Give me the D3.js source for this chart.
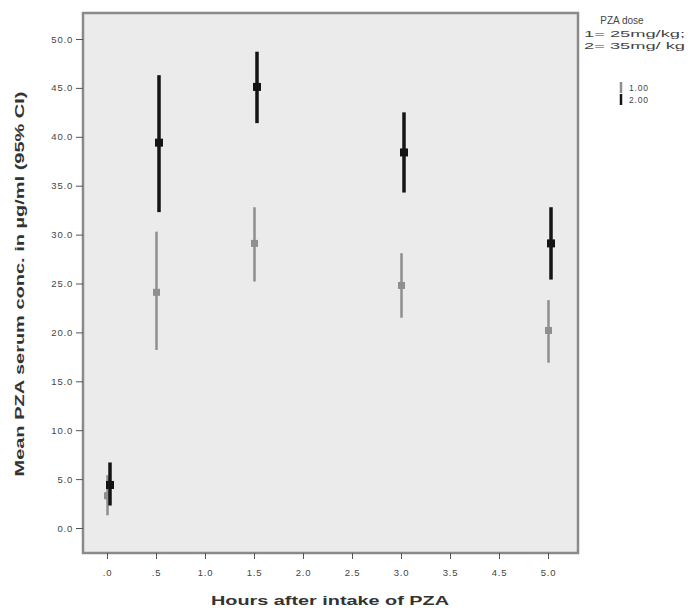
<!DOCTYPE html>
<html><head><meta charset="utf-8">
<script src="https://cdn.jsdelivr.net/npm/d3@7/dist/d3.min.js"></script>
<style>body{margin:0;background:#fff;font-family:"Liberation Sans",Arial,sans-serif}</style>
</head><body><svg id="c" width="688" height="611"></svg>
<script>
const xTickLabels = [".0", ".5", "1.0", "1.5", "2.0", "2.5", "3.0", "3.5", "4.5", "5.0"];
const yTicks = [0, 5, 10, 15, 20, 25, 30, 35, 40, 45, 50];
const hours = [".0", ".5", "1.5", "3.0", "5.0"];
// dose 1 (25 mg/kg) – grey
const dose1Mean = [3.3, 24.1, 29.1, 24.8, 20.2];
const dose1Lo   = [1.3, 18.2, 25.2, 21.5, 16.9];
const dose1Hi   = [5.4, 30.3, 32.8, 28.1, 23.3];
// dose 2 (35 mg/kg) – black
const dose2Mean = [4.4, 39.4, 45.1, 38.4, 29.1];
const dose2Lo   = [2.3, 32.3, 41.4, 34.3, 25.4];
const dose2Hi   = [6.7, 46.3, 48.7, 42.5, 32.8];
const legendLabels = ["1.00", "2.00"];

const svg = d3.select("#c");
const L = 83, R = 578, T = 13, B = 553;
const x = d3.scalePoint().domain(xTickLabels).range([107, 548]);
const y = d3.scaleLinear().domain([0, 50]).range([528, 39]);

svg.append("rect").attr("x", L).attr("y", T).attr("width", R - L).attr("height", B - T)
  .attr("fill", "#ebebeb").attr("stroke", "#8a8a8a").attr("stroke-width", 2.5);

const yAx = svg.append("g").attr("transform", `translate(${L},0)`)
  .call(d3.axisLeft(y).tickValues(yTicks).tickSize(7).tickPadding(3).tickFormat(d3.format(".1f")));
yAx.select(".domain").remove();
yAx.selectAll("line").attr("stroke", "#555");
yAx.selectAll("text").attr("font-size", 9.5).attr("fill", "#444").attr("letter-spacing", 0.8);

const xAx = svg.append("g").attr("transform", `translate(0,${B})`)
  .call(d3.axisBottom(x).tickSize(6));
xAx.select(".domain").remove();
xAx.selectAll("line").attr("stroke", "#555");
xAx.selectAll("text").attr("font-size", 9.5).attr("fill", "#444").attr("letter-spacing", 0.8).attr("dy", "1.45em");

function series(mean, lo, hi, dx, color, w, ms) {
  const g = svg.append("g");
  hours.forEach((h, i) => {
    const cx = x(h) + dx;
    g.append("line").attr("x1", cx).attr("x2", cx).attr("y1", y(lo[i])).attr("y2", y(hi[i]))
      .attr("stroke", color).attr("stroke-width", w);
    g.append("rect").attr("x", cx - ms / 2).attr("y", y(mean[i]) - ms / 2)
      .attr("width", ms).attr("height", ms).attr("fill", color);
  });
}
series(dose1Mean, dose1Lo, dose1Hi, 0.5, "#8f8f8f", 2.5, 7);
series(dose2Mean, dose2Lo, dose2Hi, 3, "#141414", 3.5, 8);

svg.append("text").attr("transform", "translate(24,284) rotate(-90)").attr("text-anchor", "middle")
  .attr("font-size", 13).attr("font-weight", "bold").attr("fill", "#333")
  .attr("textLength", 385).attr("lengthAdjust", "spacingAndGlyphs")
  .text("Mean PZA serum conc. in µg/ml (95% CI)");
svg.append("text").attr("x", 330).attr("y", 605).attr("text-anchor", "middle")
  .attr("font-size", 13).attr("font-weight", "bold").attr("fill", "#333")
  .attr("textLength", 238).attr("lengthAdjust", "spacingAndGlyphs")
  .text("Hours after intake of PZA");

const lg = svg.append("g").attr("font-size", 10).attr("fill", "#444");
lg.append("text").attr("x", 622).attr("y", 24).attr("text-anchor", "middle").text("PZA dose");
["1= 25mg/kg;", "2= 35mg/ kg"].forEach((t, i) =>
  lg.append("text").attr("x", 584).attr("y", 37 + i * 12).attr("font-size", 9)
    .attr("textLength", 101).attr("lengthAdjust", "spacingAndGlyphs").text(t));
const legColors = ["#8f8f8f", "#141414"];
legendLabels.forEach((t, i) => {
  const yy = 88 + i * 12;
  lg.append("line").attr("x1", 621).attr("x2", 621).attr("y1", yy - 6).attr("y2", yy + 5)
    .attr("stroke", legColors[i]).attr("stroke-width", 2.5);
  lg.append("text").attr("x", 629).attr("y", yy + 3).attr("font-size", 8.5)
    .attr("letter-spacing", 0.8).text(t);
});
</script></body></html>
